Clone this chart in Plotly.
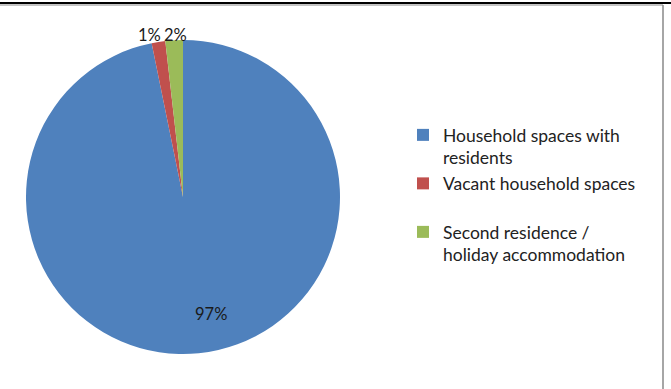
import plotly.graph_objects as go

W, H = 671, 389

labels = ["Household spaces with<br>residents", "Vacant household spaces<br> ", "Second residence /<br>holiday accommodation"]
values = [96.8, 1.4, 1.8]
colors = ["#4F81BD", "#C0504D", "#9BBB59"]

def px(x):
    return x / W

def py(y):
    return 1 - y / H

cx, cy, r = 183, 197, 157

fig = go.Figure(go.Pie(
    labels=labels,
    values=values,
    sort=False,
    direction="clockwise",
    rotation=0,
    marker=dict(colors=colors, line=dict(width=0)),
    textinfo="none",
    domain=dict(x=[px(cx - r), px(cx + r)], y=[py(cy + r), py(cy - r)]),
    showlegend=True,
    hoverinfo="label+percent",
))

total = sum(values)
pct = [f"{round(v / total * 100)}%" for v in values]
label_pos = [(211, 314), (149, 35), (175, 35)]
annotations = [
    dict(text=t, x=px(x), y=py(y), xref="paper", yref="paper", showarrow=False,
         xanchor="center", yanchor="middle",
         font=dict(family="Lato, sans-serif", size=16.5, color="#1a1a1a"))
    for t, (x, y) in zip(pct, label_pos)
]

shapes = [
    dict(type="line", xref="paper", yref="paper", x0=0, x1=1, y0=py(3), y1=py(3),
         line=dict(color="black", width=2)),
    dict(type="line", xref="paper", yref="paper", x0=0, x1=px(663), y0=py(5), y1=py(5),
         line=dict(color="#888888", width=1)),
    dict(type="line", xref="paper", yref="paper", x0=px(663), x1=px(663), y0=py(5), y1=0,
         line=dict(color="#888888", width=1.5)),
]

fig.update_layout(
    width=W, height=H,
    margin=dict(l=0, r=0, t=0, b=0),
    paper_bgcolor="white",
    plot_bgcolor="white",
    shapes=shapes,
    annotations=annotations,
    legend=dict(
        x=px(403), y=py(117), xanchor="left", yanchor="top",
        font=dict(family="Lato, sans-serif", size=17.5, color="#222222"),
        valign="top",
        itemwidth=30,
        tracegroupgap=0,
    ),
)

fig.write_html("out.html")
